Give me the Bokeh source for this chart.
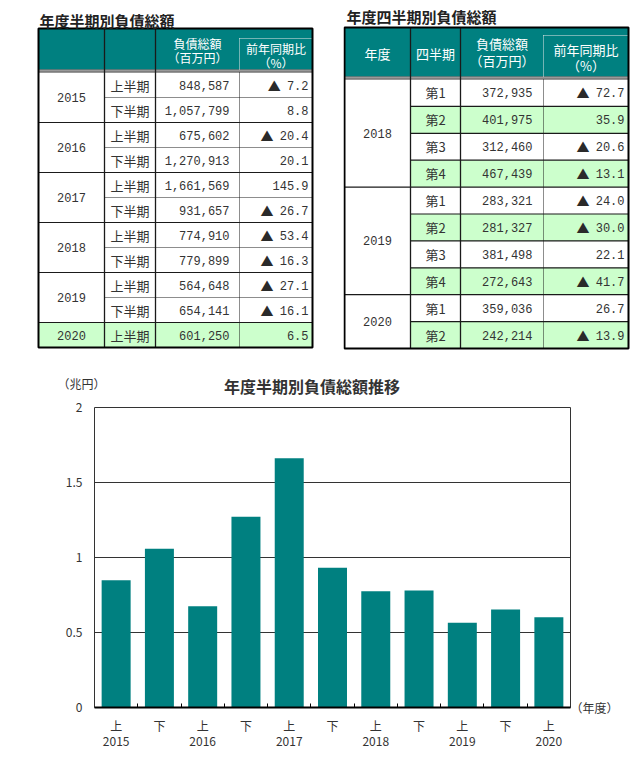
from bokeh.plotting import figure
from bokeh.models import Range1d, FixedTicker, LinearAxis
from bokeh.layouts import column, row
from bokeh.core.properties import value
from bokeh.embed import file_html
from bokeh.resources import INLINE

# ---------------- data ----------------
half_years = ["2015", "2015", "2016", "2016", "2017", "2017", "2018", "2018", "2019", "2019", "2020"]
half_names = ["上半期", "下半期", "上半期", "下半期", "上半期", "下半期", "上半期", "下半期", "上半期", "下半期", "上半期"]
half_amount = [848587, 1057799, 675602, 1270913, 1661569, 931657, 774910, 779899, 564648, 654141, 601250]
half_yoy = [-7.2, 8.8, -20.4, 20.1, 145.9, -26.7, -53.4, -16.3, -27.1, -16.1, 6.5]

q_years = ["2018", "2018", "2018", "2018", "2019", "2019", "2019", "2019", "2020", "2020"]
q_names = ["第1", "第2", "第3", "第4", "第1", "第2", "第3", "第4", "第1", "第2"]
q_amount = [372935, 401975, 312460, 467439, 283321, 281327, 381498, 272643, 359036, 242214]
q_yoy = [-72.7, 35.9, -20.6, -13.1, -24.0, -30.0, 22.1, -41.7, 26.7, -13.9]

y_ticks = [0, 0.5, 1, 1.5, 2]
y_tick_labels = ["0", "0.5", "1", "1.5", "2"]

chart_title = "年度半期別負債総額推移"
y_unit = "（兆円）"
x_unit = "（年度）"

TEAL = "#008080"
GREEN = "#ccffcc"
TXT = "#333333"
LINE = "#1a1a1a"
JP = value("Noto Sans CJK JP")
NUM = value("Liberation Mono")
CW = 7.2  # advance of one Liberation Mono character at 12px


def fmt_amt(v):
    return f"{v:,}"


def pixel_fig(W, H):
    p = figure(width=W, height=H, x_range=Range1d(0, W), y_range=Range1d(H, 0),
               x_axis_type=None, y_axis_type=None, toolbar_location=None,
               output_backend="svg", min_border=0, outline_line_color=None,
               frame_align=False)
    p.background_fill_color = "white"
    p.border_fill_color = "white"
    return p


def build_table(W, H, cols, top, bt, rh, years, names, amounts, yoy,
                green_rows, green_from, within_dash, title, title_x, title_y,
                header_items, dotted_top, name_size, hdr_size, amt_pad, pct_pad):
    p = pixel_fig(W, H)
    n = len(years)
    bottom = bt + n * rh
    L, R = cols[0], cols[-1]

    # header background
    p.quad(left=[L], right=[R], top=[top], bottom=[bt - 3], fill_color=TEAL, line_color=None)
    # green rows
    gi = [i for i in range(n) if green_rows[i]]
    p.quad(left=[cols[green_from]] * len(gi), right=[R] * len(gi),
           top=[bt + i * rh for i in gi], bottom=[bt + (i + 1) * rh for i in gi],
           fill_color=GREEN, line_color=None)
    # double line under header
    ys = [bt - 2.5, bt - 1.5, bt - 0.5]
    p.segment(x0=[L] * 3, x1=[R] * 3, y0=ys, y1=ys,
              line_color=["#333333", "#9a9a9a", "#333333"], line_width=1)
    # row separators
    sx0, sx1, sy, wx0, wx1, wy = [], [], [], [], [], []
    for k in range(1, n):
        y = bt + k * rh
        if years[k] != years[k - 1]:
            sx0.append(L); sx1.append(R); sy.append(y)
        else:
            wx0.append(cols[1]); wx1.append(R); wy.append(y)
    p.segment(x0=sx0, x1=sx1, y0=sy, y1=sy, line_color=LINE, line_width=1.2)
    if within_dash:
        p.segment(x0=wx0, x1=wx1, y0=wy, y1=wy, line_color=LINE, line_width=1, line_dash="1 1")
    else:
        p.segment(x0=wx0, x1=wx1, y0=wy, y1=wy, line_color=LINE, line_width=1.2)
    # vertical lines
    p.segment(x0=[cols[1], cols[2]], x1=[cols[1], cols[2]], y0=[top, top], y1=[bottom, bottom],
              line_color=LINE, line_width=1.3)
    p.segment(x0=[cols[3]], x1=[cols[3]], y0=[bt], y1=[bottom], line_color=LINE,
              line_width=1, line_dash="1 1")
    p.segment(x0=[cols[3], cols[3]], x1=[cols[3], R], y0=[dotted_top, dotted_top],
              y1=[bt - 3, dotted_top], line_color="#e8e8e8", line_width=1, line_dash="1 1")
    # outer border
    p.quad(left=[L], right=[R], top=[top], bottom=[bottom], fill_color=None,
           line_color="black", line_width=2)

    # title
    p.text(x=[title_x], y=[title_y], text=[title], text_font=JP, text_font_size="15px",
           text_font_style="bold", text_color="#222222", text_align="left", text_baseline="middle")
    # header texts
    p.text(x=[h[0] for h in header_items], y=[h[1] for h in header_items],
           text=[h[2] for h in header_items], text_font=JP, text_font_size=hdr_size,
           text_color="white", text_align="center", text_baseline="middle")
    # year groups
    gx, gy, gt = [], [], []
    s = 0
    for k in range(1, n + 1):
        if k == n or years[k] != years[s]:
            gx.append((cols[0] + cols[1]) / 2)
            gy.append(bt + (s + k) / 2 * rh)
            gt.append(years[s])
            s = k
    p.text(x=gx, y=gy, text=gt, text_font=NUM, text_font_size="12px", text_color=TXT,
           text_align="center", text_baseline="middle")
    cy = [bt + (i + 0.5) * rh for i in range(n)]
    p.text(x=[(cols[1] + cols[2]) / 2] * n, y=cy, text=names, text_font=JP,
           text_font_size=name_size, text_color=TXT, text_align="center", text_baseline="middle")
    p.text(x=[cols[3] - amt_pad] * n, y=cy, text=[fmt_amt(v) for v in amounts], text_font=NUM,
           text_font_size="12px", text_color=TXT, text_align="right", text_baseline="middle")
    pct_txt = [f"{abs(v):.1f}" for v in yoy]
    p.text(x=[R - pct_pad] * n, y=cy, text=pct_txt, text_font=NUM,
           text_font_size="12px", text_color=TXT, text_align="right", text_baseline="middle")
    neg = [i for i in range(n) if yoy[i] < 0]
    p.text(x=[R - pct_pad - CW * (len(pct_txt[i]) + 1) + 1 for i in neg], y=[cy[i] for i in neg],
           text=["▲"] * len(neg), text_font=JP, text_font_size="13px", text_color="#2a2a2a",
           text_align="right", text_baseline="middle")
    return p


# ---------------- table 1 ----------------
c1 = [38, 104, 155, 239, 312]
pA = build_table(
    343, 352, c1, 28, 72, 25, half_years, half_names, half_amount, half_yoy,
    [False] * 10 + [True], 0, True, "年度半期別負債総額", 39, 20,
    [((c1[2] + c1[3]) / 2, 43, "負債総額"), ((c1[2] + c1[3]) / 2, 57, "（百万円）"),
     ((c1[3] + c1[4]) / 2, 48, "前年同期比"), ((c1[3] + c1[4]) / 2, 62, "（%）")],
    38, "13px", "12px", 10, 4)

# ---------------- table 2 ----------------
c2 = [1, 67, 117, 200, 285]
pB = build_table(
    290, 352, c2, 27, 79, 26.9, q_years, q_names, q_amount, q_yoy,
    [n in ("第2", "第4") for n in q_names], 1, False, "年度四半期別負債総額", 3, 16,
    [((c2[0] + c2[1]) / 2, 53, "年度"), ((c2[1] + c2[2]) / 2, 53, "四半期"),
     ((c2[2] + c2[3]) / 2, 43, "負債総額"), ((c2[2] + c2[3]) / 2, 60, "（百万円）"),
     ((c2[3] + c2[4]) / 2, 49, "前年同期比"), ((c2[3] + c2[4]) / 2, 65, "（%）")],
    35, "13px", "13px", 11, 4)

# ---------------- chart heading ----------------
pH = pixel_fig(633, 46)
pH.text(x=[311.5], y=[45], text=[chart_title], text_font=JP, text_font_size="16px",
        text_font_style="bold", text_color="#333333", text_align="center", text_baseline="bottom")
pH.text(x=[57], y=[31], text=[y_unit], text_font=JP, text_font_size="12px",
        text_color=TXT, text_align="left", text_baseline="middle")

# ---------------- bar chart ----------------
n_bars = len(half_amount)
xs = [i + 0.5 for i in range(n_bars)]
xlabels = {x: (f"上\n{y}" if nm.startswith("上") else "下")
           for x, y, nm in zip(xs, half_years, half_names)}
vals = [v / 1e6 for v in half_amount]

pC = figure(width=633, height=357, x_range=Range1d(0, n_bars), y_range=Range1d(0, 2),
            toolbar_location=None, output_backend="svg", frame_align=False,
            min_border_left=94, min_border_right=63, min_border_top=9, min_border_bottom=48)
pC.background_fill_color = "white"
pC.border_fill_color = "white"
pC.outline_line_color = "#333333"
pC.outline_line_width = 1

pC.vbar(x=xs, top=vals, width=0.67, fill_color=TEAL, line_color=None)

pC.xgrid.visible = False
pC.ygrid.ticker = FixedTicker(ticks=[t for t in y_ticks if 0 < t < 2])
pC.ygrid.grid_line_color = "#333333"
pC.ygrid.grid_line_width = 1

pC.yaxis.ticker = FixedTicker(ticks=y_ticks)
pC.yaxis.major_label_overrides = dict(zip(y_ticks, y_tick_labels))
pC.yaxis.axis_line_color = None
pC.yaxis.major_tick_line_color = None
pC.yaxis.major_tick_out = 0
pC.yaxis.major_tick_in = 0
pC.yaxis.minor_tick_line_color = None
pC.yaxis.major_label_standoff = 12
pC.yaxis.major_label_text_font = "Noto Sans CJK JP"
pC.yaxis.major_label_text_font_size = "12px"
pC.yaxis.major_label_text_color = TXT

pC.xaxis.ticker = FixedTicker(ticks=xs, minor_ticks=list(range(1, n_bars)))
pC.xaxis.major_label_overrides = xlabels
pC.xaxis.axis_line_color = "black"
pC.xaxis.axis_line_width = 2
pC.xaxis.major_tick_line_color = None
pC.xaxis.major_tick_out = 0
pC.xaxis.major_tick_in = 0
pC.xaxis.minor_tick_line_color = "black"
pC.xaxis.minor_tick_in = 4
pC.xaxis.minor_tick_out = 0
pC.xaxis.major_label_standoff = 9
pC.xaxis.major_label_text_font = "Noto Sans CJK JP"
pC.xaxis.major_label_text_font_size = "12px"
pC.xaxis.major_label_text_color = TXT
pC.xaxis.major_label_text_line_height = 0.92

unit_axis = LinearAxis(ticker=FixedTicker(ticks=[0]), major_label_overrides={0: x_unit},
                       axis_line_color=None, major_tick_line_color=None, major_tick_out=0,
                       major_tick_in=0, minor_tick_line_color=None, major_label_standoff=0,
                       major_label_text_font="Noto Sans CJK JP", major_label_text_font_size="12px",
                       major_label_text_color=TXT)
pC.add_layout(unit_axis, "right")

layout = column(row(pA, pB), pH, pC)
open("out.html", "w").write(file_html(layout, INLINE))
